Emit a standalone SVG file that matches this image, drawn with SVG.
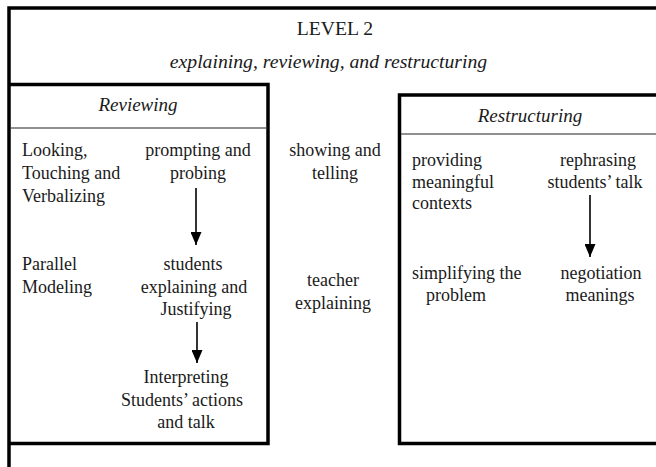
<svg xmlns="http://www.w3.org/2000/svg" width="656" height="467" viewBox="0 0 656 467">
  <style>
    .t { font-family: "Liberation Serif", "Times New Roman", serif; font-size: 18px; fill: #1a1a1a; }
    .c { text-anchor: middle; }
    .i { font-style: italic; }
    .title { font-size: 19.7px; }
    .sub { font-size: 19.7px; }
    .head { font-size: 19px; }
    .frame { fill: none; stroke: #000; stroke-width: 3.5; }
    .sep { stroke: #6a6a6a; stroke-width: 1.6; }
    .conn { stroke: #000; stroke-width: 1.6; fill: none; marker-end: url(#arrow); }
  </style>
  <defs>
    <marker id="arrow" viewBox="0 0 13 11" refX="13" refY="5.5" markerWidth="13" markerHeight="11" markerUnits="userSpaceOnUse" orient="auto">
      <path d="M0,0 L13,5.5 L0,11 Z" fill="#000"/>
    </marker>
  </defs>
  <rect width="656" height="467" fill="#fff"/>

  <!-- outer frame: top and left edges -->
  <g id="level2">
    <path class="frame" d="M9,467 V8 H660"/>
    <text class="t c title" x="335" y="35">LEVEL 2</text>
    <text class="t c i sub" x="328.5" y="68">explaining, reviewing, and restructuring</text>
  </g>

  <!-- Reviewing panel -->
  <g id="reviewing">
    <path class="frame" d="M9,84.5 H268 V443.5 H9"/>
    <line class="sep" x1="11" y1="128" x2="266" y2="128"/>
    <text class="t c i head" x="138" y="111">Reviewing</text>
  </g>
  <g id="looking">
    <text class="t" x="22" y="156">Looking,</text>
    <text class="t" x="22" y="179">Touching and</text>
    <text class="t" x="22" y="202">Verbalizing</text>
  </g>
  <g id="parallel">
    <text class="t" x="22" y="270">Parallel</text>
    <text class="t" x="22" y="293">Modeling</text>
  </g>
  <g id="prompting">
    <text class="t c" x="198" y="156">prompting and</text>
    <text class="t c" x="198" y="179">probing</text>
  </g>
  <g id="students-explaining">
    <text class="t c" x="193" y="270">students</text>
    <text class="t c" x="194" y="293">explaining and</text>
    <text class="t c" x="196" y="315">Justifying</text>
  </g>
  <g id="interpreting">
    <text class="t c" x="186" y="383">Interpreting</text>
    <text class="t c" x="182" y="406">Students’ actions</text>
    <text class="t c" x="186" y="428">and talk</text>
  </g>

  <!-- middle column -->
  <g id="showing">
    <text class="t c" x="335" y="156">showing and</text>
    <text class="t c" x="335" y="179">telling</text>
  </g>
  <g id="teacher">
    <text class="t c" x="333" y="286">teacher</text>
    <text class="t c" x="333" y="309">explaining</text>
  </g>

  <!-- Restructuring panel -->
  <g id="restructuring">
    <path class="frame" d="M660,95 H399.5 V443.5 H660"/>
    <line class="sep" x1="401" y1="134" x2="656" y2="134"/>
    <text class="t c i head" x="530" y="122">Restructuring</text>
  </g>
  <g id="providing">
    <text class="t" x="412" y="166">providing</text>
    <text class="t" x="412" y="188">meaningful</text>
    <text class="t" x="412" y="209">contexts</text>
  </g>
  <g id="rephrasing">
    <text class="t c" x="598" y="166">rephrasing</text>
    <text class="t c" x="595" y="188">students’ talk</text>
  </g>
  <g id="simplifying">
    <text class="t" x="412" y="279">simplifying the</text>
    <text class="t" x="426" y="301">problem</text>
  </g>
  <g id="negotiation">
    <text class="t c" x="601" y="279">negotiation</text>
    <text class="t c" x="600" y="301">meanings</text>
  </g>

  <!-- connectors -->
  <g id="connectors">
    <line class="conn" x1="196" y1="188" x2="196" y2="245"/>
    <line class="conn" x1="197" y1="322" x2="197" y2="363"/>
    <line class="conn" x1="590" y1="195" x2="590" y2="257"/>
  </g>
</svg>
